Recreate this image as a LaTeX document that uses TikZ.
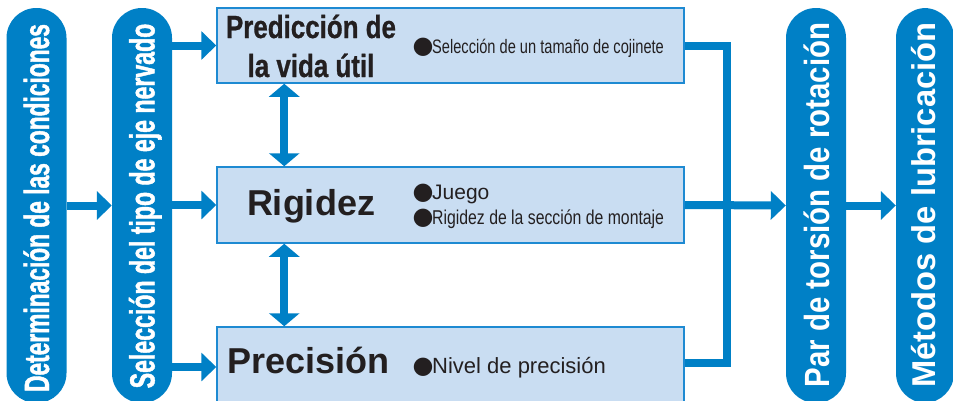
\documentclass[tikz,border=0pt]{standalone}
\usepackage{fontspec}
\setmainfont{Liberation Sans}
\newfontfamily\dvfont{DejaVu Sans}
\usetikzlibrary{arrows.meta}
\definecolor{mainblue}{HTML}{0080C6}
\definecolor{boxfill}{HTML}{C9DDF2}
\definecolor{boxline}{HTML}{1E8AD2}
\definecolor{ink}{HTML}{231F20}
\newcommand\blt{\makebox[18pt][c]{\raisebox{-0.5pt}[0pt][0pt]{\dvfont\fontsize{24}{24}\selectfont ●}}}
\newcommand\fs[2]{\fontsize{#1}{#1}\selectfont\addfontfeature{FakeStretch=#2}}
\begin{document}
\begin{tikzpicture}[x=1pt,y=-1pt,
  pill/.style={fill=mainblue, rounded corners=29.9pt, minimum width=60pt, minimum height=395pt, inner sep=0pt, draw=none},
  pilltext/.style={rotate=90, text=white, inner sep=0pt, anchor=center, text depth=0pt},
  box/.style={fill=boxfill, draw=boxline, line width=1.5pt, inner sep=0pt, minimum width=467pt},
  title/.style={text=ink, inner sep=0pt},
  conn/.style={draw=mainblue, line width=8pt},
  arr/.style={conn, -{Triangle[length=15pt,width=28pt]}},
  darr/.style={conn, {Triangle[length=13pt,width=30pt]}-{Triangle[length=13pt,width=30pt]}},
]
\useasboundingbox (0,0) rectangle (953,400);
\fill[white] (0,0) rectangle (953,400);
\clip (0,0) rectangle (953,400);

% pills
\node[pill] (p1) at (36.5,205.5) {};
\node[pill] (p2) at (142,205.5) {};
\node[pill] (p3) at (816,205.5) {};
\node[pill, minimum width=58pt] (p4) at (925,205.5) {};

\node[pilltext, text height=25pt, font=\bfseries\fs{35}{0.65}\addfontfeature{FakeBold=1.2}] (t1) at (36.5,208) {Determinación de las condiciones};
\node[pilltext, text height=25pt, font=\bfseries\fs{35}{0.66}\addfontfeature{FakeBold=1.2}] (t2) at (142,206) {Selección del tipo de eje nervado};
\node[pilltext, text height=25pt, font=\bfseries\fs{35}{0.84}] (t3) at (816.5,205) {Par de torsión de rotación};
\node[pilltext, text height=24pt, font=\bfseries\fs{33}{0.99}] (t4) at (923,205) {Métodos de lubricación};

% boxes
\node[box, minimum height=75pt] (b1) at (450.5,45.5) {};
\node[box, minimum height=76pt] (b2) at (450.5,205) {};
\node[box, minimum height=80pt] (b3) at (450.5,367) {};

\node[title, anchor=base, font=\bfseries\fs{32}{0.81}\addfontfeature{FakeBold=0.8}] (t5a) at (311,38) {Predicción de};
\node[title, anchor=base, font=\bfseries\fs{32}{0.81}\addfontfeature{FakeBold=0.8}] (t5b) at (311,77) {la vida útil};
\node[title, anchor=base, font=\bfseries\fs{36}{1}] (t6) at (311,215) {Rigidez};
\node[title, anchor=base west, font=\bfseries\fs{36}{1}] (t7) at (227,373) {Precisión};

\node[title, anchor=base west, font=\fs{19.5}{0.75}] (l1) at (414,53) {\blt Selección de un tamaño de cojinete};
\node[title, anchor=base west, font=\fs{21}{1}] (l2) at (414,199) {\blt Juego};
\node[title, anchor=base west, font=\fs{20}{0.79}] (l3) at (414,224) {\blt Rigidez de la sección de montaje};
\node[title, anchor=base west, font=\fs{22}{1}] (l4) at (414,373) {\blt Nivel de precisión};

% connectors
\draw[arr] (p1.east) -- (p2.west);
\draw[arr] (p2.east |- b1.west) -- (b1.west);
\draw[arr] (p2.east |- b2.west) -- (b2.west);
\draw[arr] (p2.east |- b3.west) -- (b3.west);
\draw[darr] ([xshift=68pt]b1.south west) -- ([xshift=68pt]b2.north west);
\draw[darr] ([xshift=68pt]b2.south west) -- ([xshift=68pt]b3.north west);

\coordinate (j) at (727,205);
\draw[conn] (b1.east) -| (j) |- ([yshift=4pt]b3.east);
\draw[arr] (b2.east) -- (p3.west);
\draw[arr] (p3.east) -- (p4.west);
\end{tikzpicture}
\end{document}
